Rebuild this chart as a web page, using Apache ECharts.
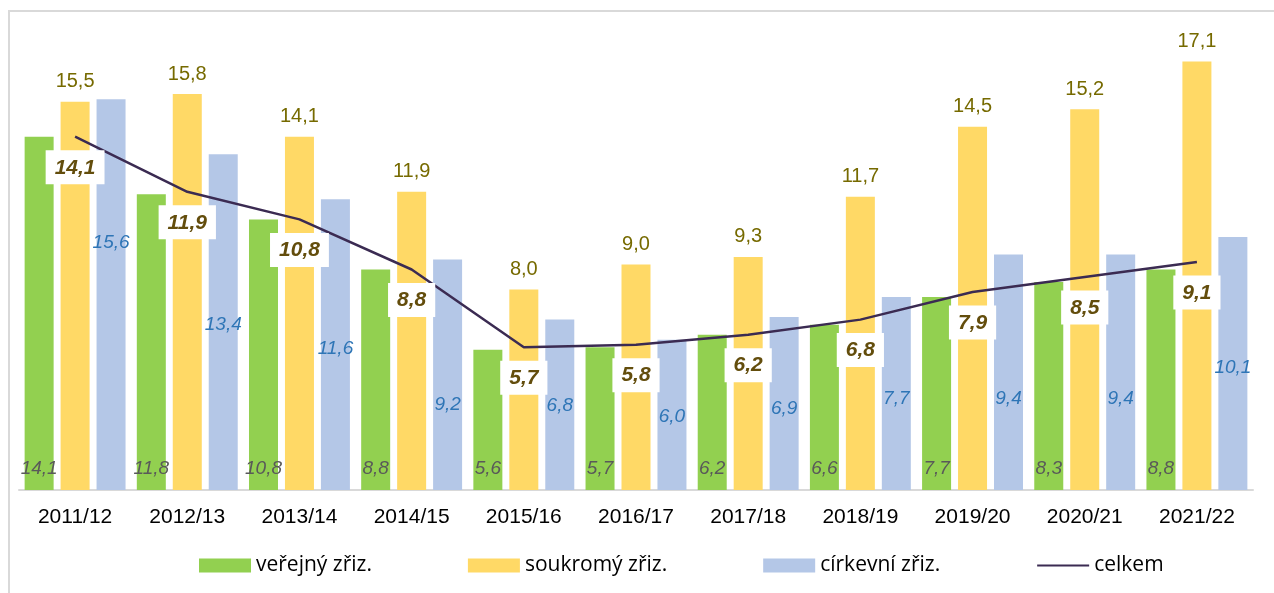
<!DOCTYPE html>
<html>
<head>
<meta charset="utf-8">
<script src="https://cdn.jsdelivr.net/npm/echarts@6/dist/echarts.min.js"></script>
<style>
  html,body{margin:0;padding:0;background:#fff;}
  #chart{width:1274px;height:593px;}
</style>
</head>
<body>
<div id="chart"></div>
<script>
// data
var years = ['2011/12','2012/13','2013/14','2014/15','2015/16','2016/17','2017/18','2018/19','2019/20','2020/21','2021/22'];
var verejny = [14.1, 11.8, 10.8, 8.8, 5.6, 5.7, 6.2, 6.6, 7.7, 8.3, 8.8];
var soukromy = [15.5, 15.8, 14.1, 11.9, 8.0, 9.0, 9.3, 11.7, 14.5, 15.2, 17.1];
var cirkevni = [15.6, 13.4, 11.6, 9.2, 6.8, 6.0, 6.9, 7.7, 9.4, 9.4, 10.1];
var celkem = [14.1, 11.9, 10.8, 8.8, 5.7, 5.8, 6.2, 6.8, 7.9, 8.5, 9.1];

// where the blue labels sit above the axis (px), as in the original
var cirkevniLabelLift = [238, 156, 132, 76, 75, 64, 72, 82, 82, 82, 113];

function carka(v){
  return v.toFixed(1).replace('.', ',');
}

var mychart = echarts.init(document.getElementById('chart'));

var cirkevniData = cirkevni.map(function(v, i){
  return {value: v, label: {distance: cirkevniLabelLift[i]}};
});

var option = {
  animation: false,
  textStyle: {fontFamily: 'Liberation Sans'},
  graphic: [{
    type: 'rect',
    shape: {x: 9, y: 11, width: 1400, height: 700},
    style: {fill: 'none', stroke: '#d9d9d9', lineWidth: 2},
    silent: true,
    z: -10
  }],
  grid: {left: 19, right: 21, top: 39, bottom: 103},
  legend: {
    left: 199,
    top: 555,
    padding: 0,
    itemWidth: 52,
    itemHeight: 14,
    itemGap: 96,
    textStyle: {fontFamily: 'Open Sans', fontSize: 21, color: '#000', padding: [0, 0, 0, 0]},
    data: [
      {name: 'veřejný zřiz.', icon: 'rect'},
      {name: 'soukromý zřiz.', icon: 'rect'},
      {name: 'církevní zřiz.', icon: 'rect'},
      {name: 'celkem', itemStyle: {opacity: 0}}
    ]
  },
  xAxis: {
    type: 'category',
    data: years,
    axisLine: {lineStyle: {color: '#d9d9d9', width: 2}},
    axisTick: {show: false},
    axisLabel: {color: '#000', fontSize: 21, margin: 17}
  },
  yAxis: {
    type: 'value',
    min: 0,
    max: 18,
    show: false,
    splitLine: {show: false}
  },
  series: [
    {
      name: 'veřejný zřiz.',
      type: 'bar',
      barWidth: 29,
      barGap: '24%',
      itemStyle: {color: '#92d050'},
      label: {
        show: true,
        position: 'insideBottom',
        distance: 12,
        fontSize: 19,
        fontStyle: 'italic',
        color: '#595959',
        formatter: function(p){ return carka(p.value); }
      },
      data: verejny
    },
    {
      name: 'soukromý zřiz.',
      type: 'bar',
      barWidth: 29,
      barGap: '24%',
      itemStyle: {color: '#ffd966'},
      label: {
        show: true,
        position: 'top',
        distance: 10,
        fontSize: 20,
        color: '#766a00',
        formatter: function(p){ return carka(p.value); }
      },
      data: soukromy
    },
    {
      name: 'církevní zřiz.',
      type: 'bar',
      barWidth: 29,
      barGap: '24%',
      itemStyle: {color: '#b4c7e7'},
      label: {
        show: true,
        position: 'insideBottom',
        fontSize: 19,
        fontStyle: 'italic',
        color: '#2e75b6',
        formatter: function(p){ return carka(p.value); }
      },
      data: cirkevniData
    },
    {
      name: 'celkem',
      type: 'line',
      symbol: 'none',
      z: 5,
      lineStyle: {color: '#3b2b52', width: 2.5},
      itemStyle: {color: '#3b2b52'},
      data: celkem
    },
    {
      // popisky k čáře celkem
      name: 'celkem popisky',
      type: 'scatter',
      symbolSize: 1,
      z: 6,
      itemStyle: {color: 'rgba(0,0,0,0)', opacity: 1},
      label: {
        show: true,
        position: 'bottom',
        distance: 13,
        fontSize: 21,
        fontWeight: 'bold',
        fontStyle: 'italic',
        color: '#634d0c',
        opacity: 1,
        backgroundColor: '#fff',
        padding: [7, 9, 6, 9],
        formatter: function(p){ return carka(p.value); }
      },
      data: celkem
    }
  ]
};

mychart.setOption(option);
</script>
</body>
</html>
